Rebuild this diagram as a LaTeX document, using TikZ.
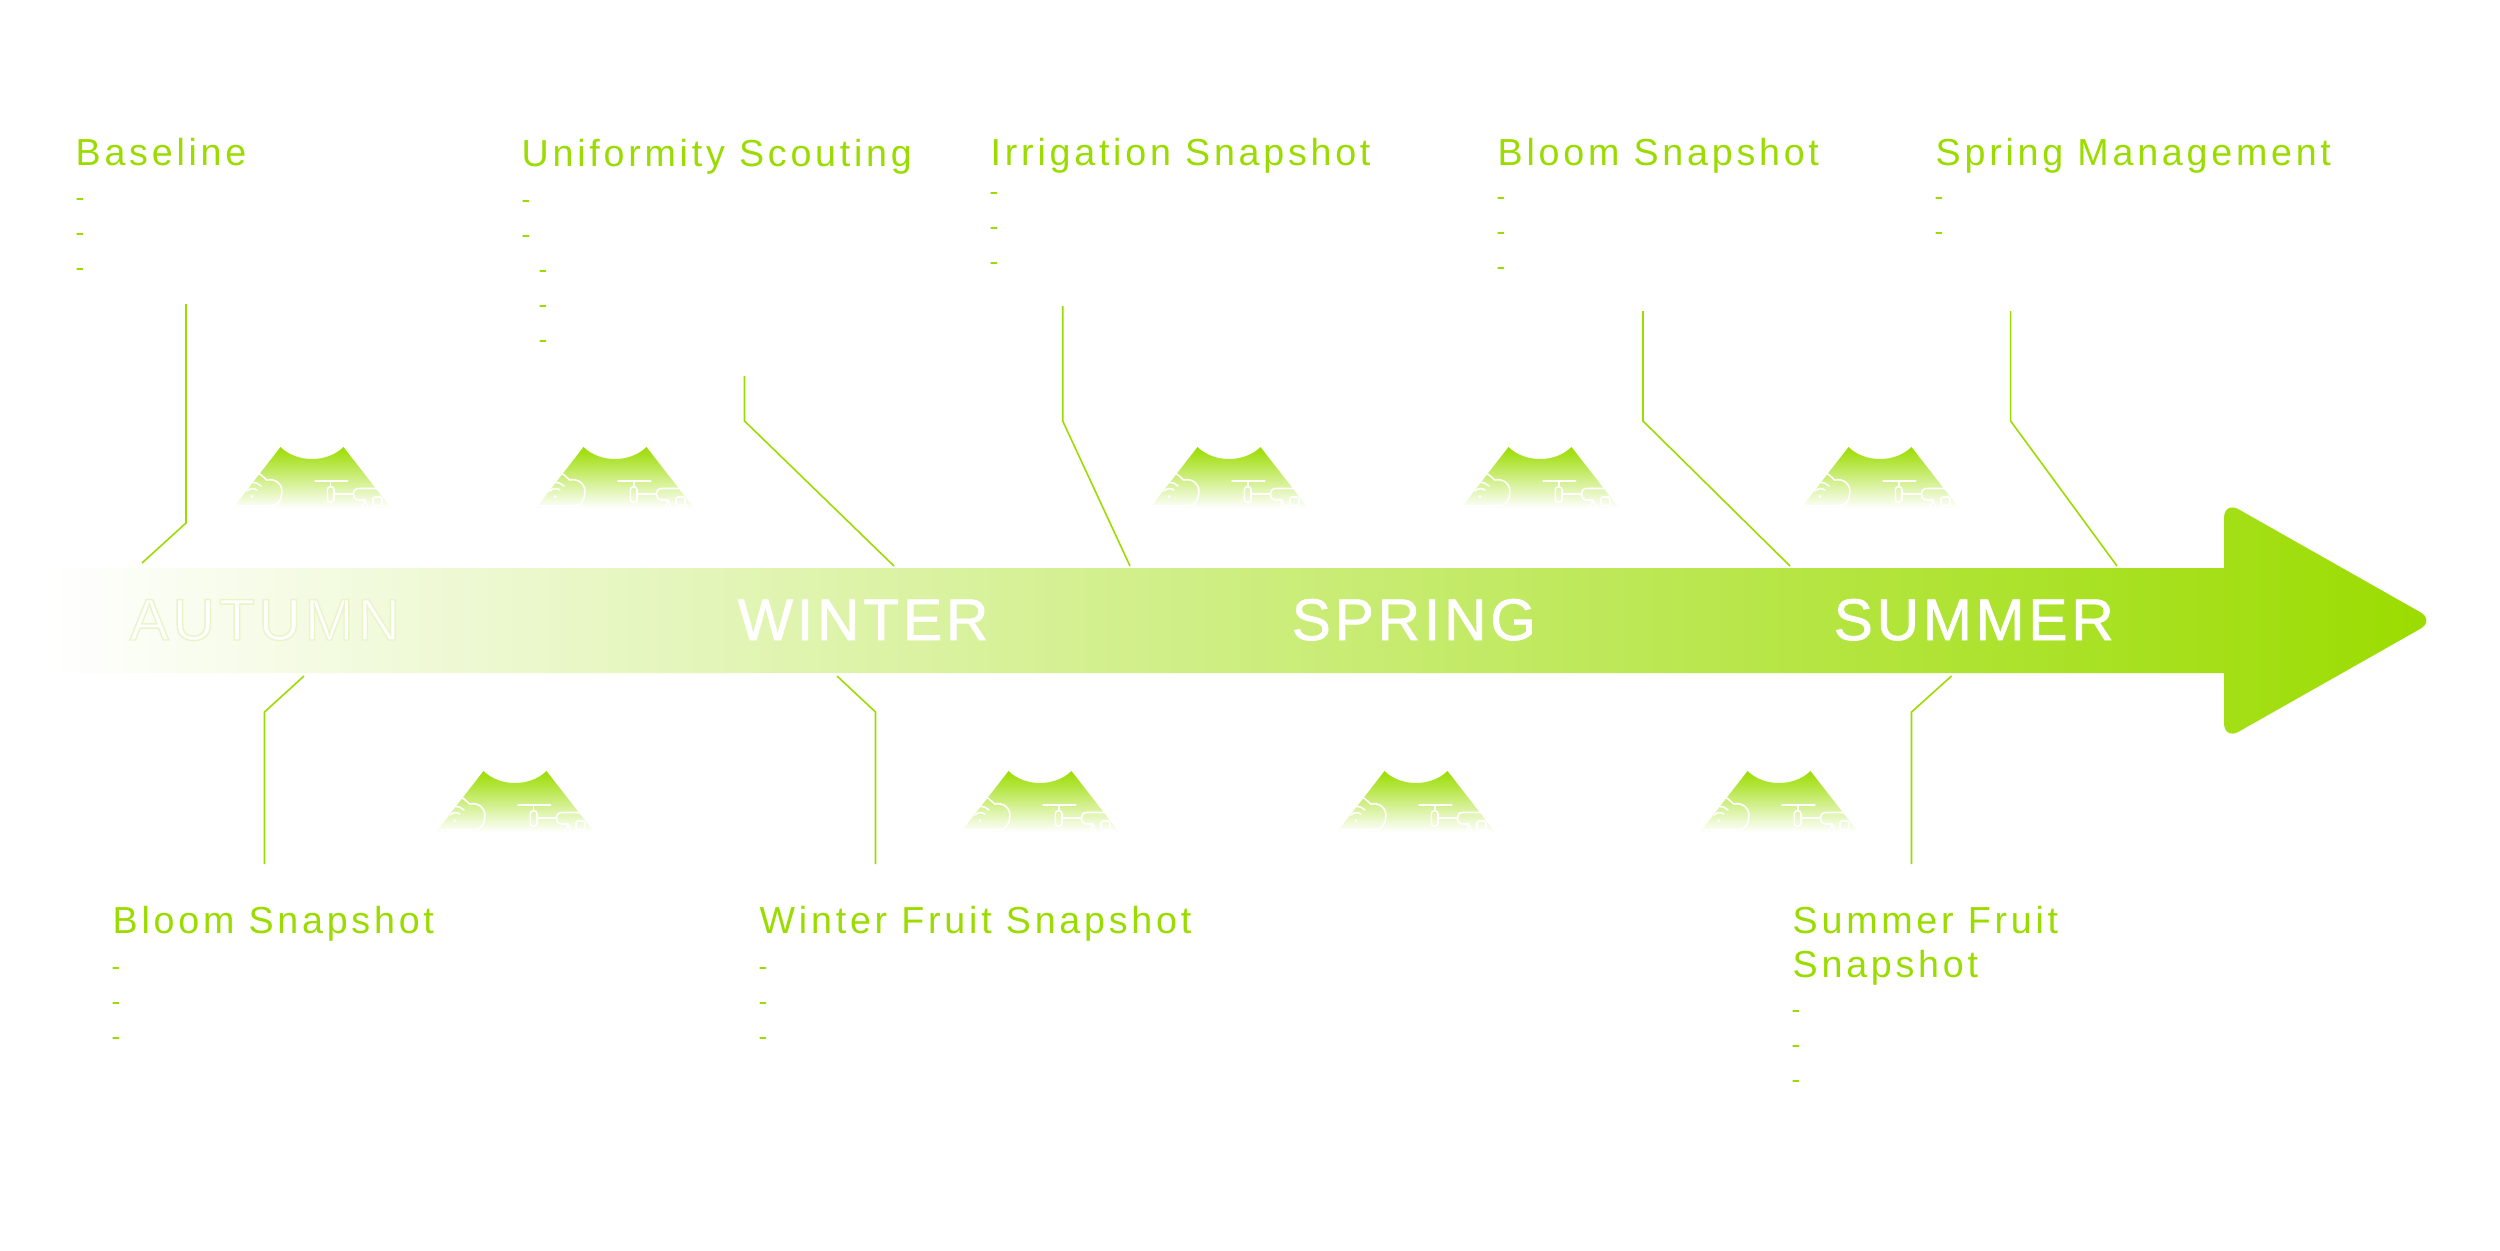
\documentclass[tikz,border=0pt]{standalone}
\usepackage{fontspec}
\setmainfont{Liberation Sans}
\newfontfamily\headfont[LetterSpace=10]{Liberation Sans}
\newfontfamily\seasonfont[LetterSpace=6.5]{Liberation Sans}
\definecolor{cropgreen}{HTML}{9BDC00}
\newcommand{\strokedword}[3]{\color{white}\special{pdf:code 2 Tr #1 w #2 RG}#3\special{pdf:code 0 Tr}}

\tikzset{
  heading/.style={anchor=base west, inner sep=0pt, align=left, text=cropgreen, font=\headfont\fontsize{10.7}{12.5}\selectfont},
  dashlist/.style={anchor=north west, inner sep=0pt, align=left, text=cropgreen, font=\fontsize{7.5}{9.96}\selectfont},
  season/.style={anchor=base west, inner sep=0pt, text=white, font=\seasonfont\fontsize{16.7}{20}\selectfont},
  leader/.style={draw=cropgreen, line width=0.45pt},
  iconline/.style={draw=white, line width=0.45pt, line cap=round, line join=round},
  sensorcell/.pic={
    \shade[top color=cropgreen, middle color=cropgreen!75!white, bottom color=white]
      (-31.5,0) .. controls (-15,16) and (15,16) .. (31.5,0) -- (79,61) -- (-79,61) -- cycle;
    % cloud with signal
    \draw[iconline] (-53.7,26.3) .. controls (-50,28) and (-48,31) .. (-45.3,33)
      .. controls (-36,31) and (-29,38) .. (-30.3,46) .. controls (-30.5,54) and (-35,58.7) .. (-40,58.7) -- (-77,58.7);
    \draw[iconline] (-65,44) .. controls (-62,41) and (-58,41) .. (-55,43);
    \draw[iconline] (-69,38) .. controls (-64,34) and (-56,34) .. (-51,39);
    \fill[white] (-60,49.7) circle (1.6);
    \foreach \tx in {-72,-64,-57,-49} { \draw[iconline] (\tx,58.7) -- (\tx,61); }
    % drone and tractor
    \draw[iconline] (3,33.7) -- (35.7,33.7) (18.7,33.7) -- (18.7,39.7);
    \draw[iconline, rounded corners=0.03cm] (15.3,39.7) rectangle (22,55.3);
    \draw[iconline] (22,47) -- (41.3,47);
    \draw[iconline] (66,41.5) -- (47,41.5) .. controls (43,41.5) and (41.3,44) .. (41.3,47)
      .. controls (41.3,50) and (43,53) .. (47,53) -- (53,53) -- (56,61) (53,53) -- (50,61);
    \draw[iconline, rounded corners=0.02cm] (61,50) rectangle (70,58.7);
  }
}

\begin{document}
\begin{tikzpicture}[x=0.01cm, y=-0.01cm]
  \useasboundingbox (0,0) rectangle (2500,1250);

  % arrow
  \shade[left color=white, right color=cropgreen]
    (45,568) -- (2224,568) [rounded corners=0.17cm] -- (2224,501) -- (2435,620.5) -- (2224,740) [sharp corners] -- (2224,673) -- (45,673) -- cycle;
  \node[season] (autumn) at (129,640) {\strokedword{0.4}{0.91 0.96 0.78}{AUTUMN}};
  \node[season] (winter) at (737,640) {\strokedword{0.2}{1 1 1}{WINTER}};
  \node[season] (spring) at (1291,640) {\strokedword{0.2}{1 1 1}{SPRING}};
  \node[season] (summer) at (1833,640) {\strokedword{0.2}{1 1 1}{SUMMER}};

  % cells
  \foreach \cx in {312,615,1229,1540,1880}
    \pic at (\cx,447) {sensorcell};
  \foreach \cx in {515,1040,1416,1779}
    \pic at (\cx,771) {sensorcell};

  % top labels
  \node[heading] (baseline) at (75,165) {Baseline};
  \node[dashlist] (baselinelist) at (75,198) {-\\-\\-};
  \node[heading] (uniformity) at (521,166) {Uniformity Scouting};
  \node[dashlist] (uniformitylist) at (521,200) {-\\-\\\hspace*{0.17cm}-\\\hspace*{0.17cm}-\\\hspace*{0.17cm}-};
  \node[heading] (irrigation) at (990,165) {Irrigation Snapshot};
  \node[dashlist] (irrigationlist) at (989,192) {-\\-\\-};
  \node[heading] (bloomtop) at (1497,165) {Bloom Snapshot};
  \node[dashlist] (bloomtoplist) at (1496,197) {-\\-\\-};
  \node[heading] (management) at (1935,165) {Spring Management};
  \node[dashlist] (managementlist) at (1934,197) {-\\-};

  % bottom labels
  \node[heading] (bloomlow) at (112,933) {Bloom Snapshot};
  \node[dashlist] (bloomlowlist) at (111,967) {-\\-\\-};
  \node[heading] (winterfruit) at (759,933) {Winter Fruit Snapshot};
  \node[dashlist] (winterfruitlist) at (758,967) {-\\-\\-};
  \node[heading] (summerfruit) at (1792,977) {Summer Fruit\\Snapshot};
  \node[dashlist] (summerfruitlist) at (1791,1010) {-\\-\\-};

  % leaders
  \coordinate (la) at (186,304);    \coordinate (lb) at (142,563);
  \coordinate (ua) at (744.5,376);  \coordinate (ub) at (894,566);
  \coordinate (ia) at (1062.7,306); \coordinate (ib) at (1130,566);
  \coordinate (ba) at (1643,311);   \coordinate (bb) at (1790,566);
  \coordinate (ma) at (2010.6,311); \coordinate (mb) at (2117,566);
  \coordinate (da) at (264.5,864);  \coordinate (db) at (304,676);
  \coordinate (wa) at (875.5,864);  \coordinate (wb) at (837,676);
  \coordinate (sa) at (1911.5,864); \coordinate (sb) at (1951.5,676);
  \draw[leader] (la) -- ++(0,219) -- (lb);
  \draw[leader] (ua) -- ++(0,45) -- (ub);
  \draw[leader] (ia) -- ++(0,115) -- (ib);
  \draw[leader] (ba) -- ++(0,110) -- (bb);
  \draw[leader] (ma) -- ++(0,110) -- (mb);
  \draw[leader] (da) -- ++(0,-152) -- (db);
  \draw[leader] (wa) -- ++(0,-152) -- (wb);
  \draw[leader] (sa) -- ++(0,-152) -- (sb);
\end{tikzpicture}
\end{document}
